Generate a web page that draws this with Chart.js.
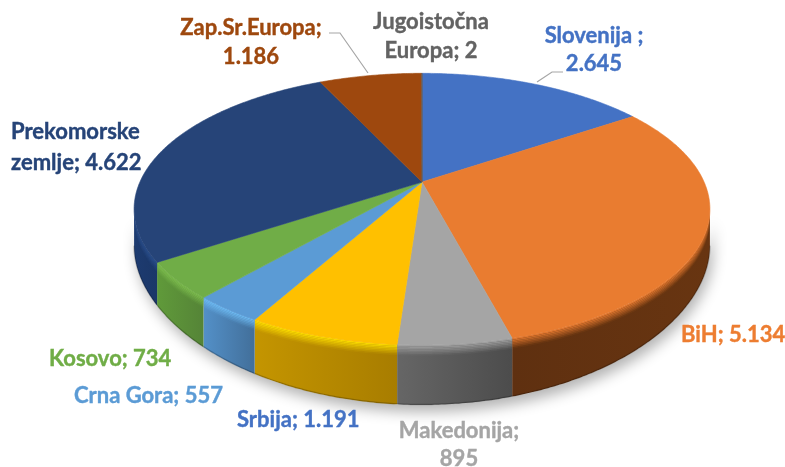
<!DOCTYPE html>
<html>
<head>
<meta charset="utf-8">
<style>
  html, body { margin: 0; padding: 0; background: #fff; overflow: hidden; }
  canvas { display: block; }
</style>
<script src="https://cdn.jsdelivr.net/npm/chart.js@4"></script>
</head>
<body>
<canvas id="pie" width="785" height="467"></canvas>
<script>
// data
var categories = ["Slovenija", "BiH", "Makedonija", "Srbija", "Crna Gora", "Kosovo", "Prekomorske zemlje", "Zap.Sr.Europa", "Jugoistočna Europa"];
var values = [2645, 5134, 895, 1191, 557, 734, 4622, 1186, 2];

// colours
var topColors = ["#4472C4", "#E97C30", "#A5A5A5", "#FFC000", "#5B9BD5", "#70AD47", "#264478", "#9E480E", "#636363"];
var sideLeft = ["#2f5597", "#5f3010", "#666666", "#c49500", "#5390c8", "#609a3a", "#1d3b70", "#6e3209", "#444444"];
var sideRight = ["#2f5597", "#683511", "#4c4c4c", "#a87d00", "#426f9a", "#558437", "#1b3768", "#6e3209", "#444444"];
var rimColors = ["#4472C4", "#E97C30", "#A5A5A5", "#FFE000", "#70BDF5", "#7FBF50", "#2d5290", "#9E480E", "#636363"];

// labels, [text, x, baseline, align, colour]
var labels = [
  ["Zap.Sr.Europa;", 251, 35, "center", "#9E480E"],
  ["1.186", 251, 64, "center", "#9E480E"],
  ["Jugoistočna", 431, 29, "center", "#636363"],
  ["Europa; 2", 431, 58, "center", "#636363"],
  ["Slovenija ;", 594, 43, "center", "#4472C4"],
  ["2.645", 594, 71, "center", "#4472C4"],
  ["Prekomorske", 11, 139, "left", "#264478"],
  ["zemlje; 4.622", 11, 170, "left", "#264478"],
  ["BiH; 5.134", 681, 342, "left", "#ED7D31"],
  ["Kosovo; 734", 49, 366, "left", "#70AD47"],
  ["Crna Gora; 557", 74, 403, "left", "#5B9BD5"],
  ["Srbija; 1.191", 237, 427, "left", "#4472C4"],
  ["Makedonija;", 459, 438, "center", "#A5A5A5"],
  ["895", 459, 466, "center", "#A5A5A5"]
];

// leader lines
var leaders = [
  [[329, 33], [340, 33], [368, 73]],
  [[537, 82], [552, 72], [563, 72]]
];

// tilted disc: perspective of the library's arcs
var tilt = 0.2;
var stretchX = 1.55;
var stretchY = 0.7165;

function project(el, a, d) {
  var u = Math.cos(a), v = Math.sin(a);
  var w = 1 - tilt * v;
  var r = el.outerRadius;
  return [el.x + stretchX * r * u / w, el.y + stretchY * r * v / w + (d || 0)];
}

// how deep the side wall looks at this angle
function depthAt(a) {
  var v = Math.max(Math.sin(a), 0);
  return 36 + 24 * v * v;
}

function arcPoints(a1, a2) {
  var pts = [];
  var n = Math.max(2, Math.ceil(Math.abs(a2 - a1) / 0.01));
  for (var i = 0; i <= n; i++) {
    pts.push(a1 + (a2 - a1) * i / n);
  }
  return pts;
}

function sideBand(ctx, el, a1, a2, from, to) {
  ctx.beginPath();
  arcPoints(a1, a2).forEach(function (a, i) {
    var p = project(el, a, from(a));
    if (i == 0) { ctx.moveTo(p[0], p[1]); } else { ctx.lineTo(p[0], p[1]); }
  });
  arcPoints(a2, a1).forEach(function (a) {
    var p = project(el, a, to(a));
    ctx.lineTo(p[0], p[1]);
  });
  ctx.closePath();
}

var disc3d = {
  id: "disc3d",
  beforeDatasetDraw: function (chart, args) {
    var ctx = chart.ctx;
    var arcs = args.meta.data;
    var first = arcs[0];
    var edge = Math.asin(tilt);

    // soft shadow under the disc
    ctx.save();
    ctx.shadowColor = "rgba(0,0,0,0.3)";
    ctx.shadowBlur = 14;
    ctx.shadowOffsetY = 7;
    ctx.shadowOffsetX = 3;
    ctx.fillStyle = "#ffffff";
    sideBand(ctx, first, edge, Math.PI - edge, function () { return 0; }, depthAt);
    ctx.fill();
    ctx.restore();

    // side wall
    arcs.forEach(function (el, i) {
      var a1 = Math.max(el.startAngle, edge);
      var a2 = Math.min(el.endAngle, Math.PI - edge);
      if (a2 <= a1) { return; }
      var x1 = project(el, a1)[0], x2 = project(el, a2)[0];
      var grad = ctx.createLinearGradient(x1, 0, x2, 0);
      grad.addColorStop(0, sideRight[i]);
      grad.addColorStop(1, sideLeft[i]);
      ctx.fillStyle = grad;
      sideBand(ctx, el, a1, a2, function () { return 0; }, depthAt);
      ctx.fill();
      // bevel between the top face and the wall
      var steps = 7;
      for (var j = 0; j < steps; j++) {
        ctx.globalAlpha = 1 - (j + 0.5) / steps;
        ctx.fillStyle = rimColors[i];
        sideBand(ctx, el, a1, a2, function () { return j * 1.5; }, function () { return (j + 1) * 1.5; });
        ctx.fill();
      }
      ctx.globalAlpha = 1;
      // dark lower edge
      ctx.strokeStyle = "rgba(0,0,0,0.22)";
      ctx.lineWidth = 1.5;
      ctx.beginPath();
      arcPoints(a1, a2).forEach(function (a, k) {
        var p = project(el, a, depthAt(a) - 0.5);
        if (k == 0) { ctx.moveTo(p[0], p[1]); } else { ctx.lineTo(p[0], p[1]); }
      });
      ctx.stroke();
    });

    // top face
    arcs.forEach(function (el, i) {
      ctx.fillStyle = topColors[i];
      ctx.strokeStyle = topColors[i];
      ctx.lineWidth = 0.6;
      ctx.beginPath();
      ctx.moveTo(el.x, el.y);
      arcPoints(el.startAngle, el.endAngle).forEach(function (a) {
        var p = project(el, a);
        ctx.lineTo(p[0], p[1]);
      });
      ctx.closePath();
      ctx.fill();
      ctx.stroke();
    });
    return false;
  },
  afterDraw: function (chart) {
    var ctx = chart.ctx;
    ctx.save();
    ctx.strokeStyle = "#A6A6A6";
    ctx.lineWidth = 1.2;
    leaders.forEach(function (line) {
      ctx.beginPath();
      line.forEach(function (p, i) {
        if (i == 0) { ctx.moveTo(p[0], p[1]); } else { ctx.lineTo(p[0], p[1]); }
      });
      ctx.stroke();
    });
    ctx.font = "bold 22px Lato";
    ctx.textBaseline = "alphabetic";
    ctx.lineWidth = 0.4;
    labels.forEach(function (l) {
      ctx.textAlign = l[3];
      ctx.fillStyle = l[4];
      ctx.strokeStyle = l[4];
      ctx.fillText(l[0], l[1], l[2]);
      ctx.strokeText(l[0], l[1], l[2]);
    });
    ctx.restore();
  }
};

new Chart("pie", {
  type: "pie",
  data: {
    labels: categories,
    datasets: [{
      data: values,
      backgroundColor: topColors,
      borderWidth: 0
    }]
  },
  options: {
    responsive: false,
    animation: false,
    layout: { padding: { left: 59, bottom: 103 } },
    plugins: {
      legend: { display: false },
      tooltip: { enabled: false }
    }
  },
  plugins: [disc3d]
});
</script>
</body>
</html>
